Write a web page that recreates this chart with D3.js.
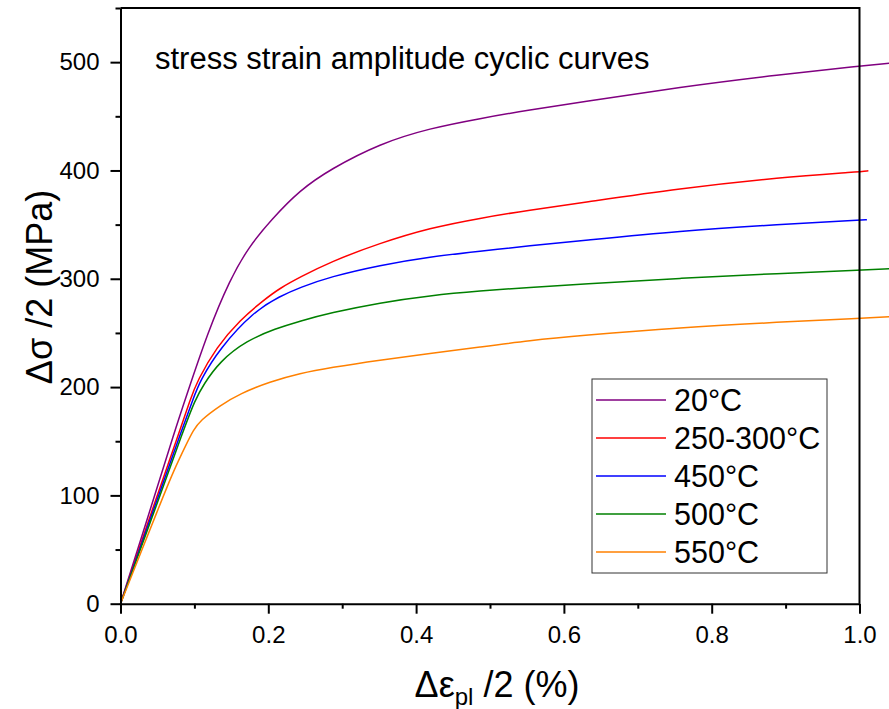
<!DOCTYPE html>
<html>
<head>
<meta charset="utf-8">
<script src="https://cdn.jsdelivr.net/npm/d3@7"></script>
<style>
  body { margin: 0; background: #fff; }
  text { font-family: "Liberation Sans", Arial, sans-serif; fill: #000; }
</style>
</head>
<body>
<div class="chart"></div>
<script>
// Series names and colours
var seriesNames = ["20°C", "250-300°C", "450°C", "500°C", "550°C"];
var seriesColors = ["#800080", "#ff0000", "#0000ff", "#008000", "#ff8000"];

// Strain amplitude (%) and stress amplitude (MPa)
var strain20 = [0, 0.044, 0.0737, 0.0873, 0.1188, 0.148, 0.173, 0.2046, 0.243, 0.2835, 0.3512, 0.4188, 0.4865, 0.554, 0.622, 0.757, 0.8925, 1.0, 1.04];
var stress20 = [0, 95, 160, 188, 252, 299, 329, 355, 382, 401, 425, 439, 448, 456, 463, 477, 488.5, 496.3, 499];

var strain250 = [0, 0.047, 0.0805, 0.094, 0.104, 0.13, 0.1617, 0.1932, 0.216, 0.243, 0.2835, 0.3512, 0.4188, 0.4865, 0.554, 0.622, 0.757, 0.8925, 1.0, 1.012];
var stress250 = [0, 95, 160, 188, 206, 237, 262, 280, 291.5, 301.5, 315.5, 333, 347, 356, 363.5, 370, 383.4, 393.6, 398.8, 399.7];

var strain450 = [0, 0.049, 0.0828, 0.0977, 0.1076, 0.1346, 0.1797, 0.216, 0.243, 0.2835, 0.3512, 0.4188, 0.4865, 0.554, 0.622, 0.757, 0.8925, 1.0, 1.01];
var stress450 = [0, 95, 160, 188, 206, 236, 269.5, 284, 292, 301.8, 312.6, 320.3, 325.5, 330.5, 335, 344.3, 350.2, 354.2, 354.5];

var strain500 = [0, 0.051, 0.085, 0.1008, 0.112, 0.1346, 0.1708, 0.21, 0.243, 0.2835, 0.3512, 0.4188, 0.4865, 0.554, 0.622, 0.757, 0.8925, 1.0, 1.04];
var stress500 = [0, 95, 160, 188, 202, 224, 243, 254, 261, 268.5, 278, 284.5, 288.8, 292, 295, 300.5, 305, 308, 309.2];

var strain550 = [0, 0.0557, 0.0714, 0.0896, 0.0985, 0.1076, 0.1346, 0.1617, 0.2023, 0.243, 0.2835, 0.3512, 0.4188, 0.4865, 0.554, 0.622, 0.757, 0.8925, 1.0, 1.04];
var stress550 = [0, 95.6, 122, 148, 160, 169, 183, 194, 205, 212.7, 218, 225, 231, 237, 243, 247.5, 255, 260, 263.5, 264.9];

var strainSeries = [strain20, strain250, strain450, strain500, strain550];
var stressSeries = [stress20, stress250, stress450, stress500, stress550];

// Tick values
var xMajorTicks = [0, 0.2, 0.4, 0.6, 0.8, 1.0];
var xMinorTicks = [0.1, 0.3, 0.5, 0.7, 0.9];
var yMajorTicks = [0, 100, 200, 300, 400, 500];
var yMinorTicks = [50, 150, 250, 350, 450, 550];

// SVG size and plot box
var svgWidth = 889;
var svgHeight = 709;
var plotLeft = 120.5, plotRight = 859.5, plotTop = 8, plotBottom = 603.7;

var svg = d3
  .select(".chart")
  .append("svg")
  .attr("width", svgWidth)
  .attr("height", svgHeight);

var xScale = d3.scaleLinear().domain([0, 1]).range([plotLeft, plotRight]);
var yScale = d3.scaleLinear().domain([0, 550]).range([plotBottom, plotTop]);

// Curves, smoothed through the read points
var line = d3.line()
  .x(function (d) { return xScale(d[0]); })
  .y(function (d) { return yScale(d[1]); })
  .curve(d3.curveBasis);

var curveData = strainSeries.map(function (xs, i) {
  return xs.map(function (v, j) { return [v, stressSeries[i][j]]; });
});

svg.append("g")
  .selectAll("path")
  .data(curveData)
  .enter()
  .append("path")
  .attr("d", line)
  .attr("fill", "none")
  .attr("stroke", function (d, i) { return seriesColors[i]; })
  .attr("stroke-width", 1.5);

// Frame on top and right
svg.append("path")
  .attr("d", "M" + plotLeft + "," + plotTop + "H" + plotRight + "V" + plotBottom)
  .attr("fill", "none")
  .attr("stroke", "#000")
  .attr("stroke-width", 2);

// X axis, major and minor ticks
var xAxis = d3.axisBottom(xScale)
  .tickValues(xMajorTicks)
  .tickSize(10)
  .tickSizeOuter(0)
  .tickPadding(12)
  .tickFormat(d3.format(".1f"));

var xAxisMinor = d3.axisBottom(xScale)
  .tickValues(xMinorTicks)
  .tickSize(5)
  .tickSizeOuter(0)
  .tickFormat("");

svg.append("g")
  .attr("class", "x-axis-minor")
  .attr("transform", "translate(0," + plotBottom + ")")
  .call(xAxisMinor)
  .select(".domain").remove();

svg.append("g")
  .attr("class", "x-axis")
  .attr("transform", "translate(0," + plotBottom + ")")
  .call(xAxis);

// Y axis, major and minor ticks
var yAxis = d3.axisLeft(yScale)
  .tickValues(yMajorTicks)
  .tickSize(10)
  .tickSizeOuter(0)
  .tickPadding(11);

var yAxisMinor = d3.axisLeft(yScale)
  .tickValues(yMinorTicks)
  .tickSize(5)
  .tickSizeOuter(0)
  .tickFormat("");

svg.append("g")
  .attr("class", "y-axis-minor")
  .attr("transform", "translate(" + plotLeft + ",0)")
  .call(yAxisMinor)
  .select(".domain").remove();

svg.append("g")
  .attr("class", "y-axis")
  .attr("transform", "translate(" + plotLeft + ",0)")
  .call(yAxis);

svg.selectAll(".x-axis, .y-axis, .x-axis-minor, .y-axis-minor")
  .selectAll("path, line")
  .attr("stroke", "#000")
  .attr("stroke-width", 2);

svg.selectAll(".x-axis text, .y-axis text")
  .attr("fill", "#000")
  .style("font-family", "'Liberation Sans', Arial, sans-serif")
  .style("font-size", "24px");

// Title inside the plot
svg.append("text")
  .attr("x", 155)
  .attr("y", 69)
  .style("font-size", "31px")
  .text("stress strain amplitude cyclic curves");

// Axis titles
var xTitle = svg.append("text")
  .attr("x", 497)
  .attr("y", 697)
  .attr("text-anchor", "middle")
  .style("font-size", "36px");
xTitle.append("tspan").text("Δε");
xTitle.append("tspan").attr("dy", 8).style("font-size", "24px").text("pl");
xTitle.append("tspan").attr("dy", -8).text(" /2 (%)");

svg.append("text")
  .attr("transform", "translate(52,287) rotate(-90)")
  .attr("text-anchor", "middle")
  .style("font-size", "36px")
  .text("Δσ /2 (MPa)");

// Legend
var legend = svg.append("g").attr("class", "legend");

legend.append("rect")
  .attr("x", 592)
  .attr("y", 379)
  .attr("width", 235)
  .attr("height", 194)
  .attr("fill", "#fff")
  .attr("stroke", "#333")
  .attr("stroke-width", 1);

var rows = legend.selectAll(".row")
  .data(seriesNames)
  .enter()
  .append("g")
  .attr("class", "row")
  .attr("transform", function (d, i) { return "translate(0," + (400 + i * 38) + ")"; });

rows.append("line")
  .attr("x1", 596)
  .attr("x2", 666)
  .attr("stroke", function (d, i) { return seriesColors[i]; })
  .attr("stroke-width", 1.5);

rows.append("text")
  .attr("x", 674)
  .attr("y", 11)
  .style("font-size", "30.5px")
  .text(function (d) { return d; });
</script>
</body>
</html>
